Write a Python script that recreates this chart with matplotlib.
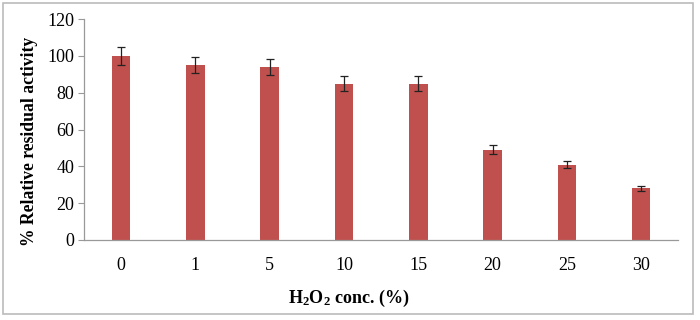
import matplotlib.pyplot as plt
from matplotlib.patches import Rectangle

conc = ['0', '1', '5', '10', '15', '20', '25', '30']
activity = [100, 95, 94, 85, 85, 49, 41, 28]
err = [5, 4.5, 4.5, 4, 4, 2.5, 2, 1.5]

plt.rcParams['font.family'] = ['Liberation Serif', 'DejaVu Serif']
plt.rcParams['mathtext.fontset'] = 'custom'
plt.rcParams['mathtext.rm'] = 'Liberation Serif'
plt.rcParams['mathtext.bf'] = 'Liberation Serif:bold'

fig = plt.figure(figsize=(7, 3.2), dpi=100)
ax = fig.add_axes([0.12, 0.25, 0.849, 0.69])

x = range(len(conc))
ax.bar(x, activity, width=0.25, color='#C0504D', yerr=err,
       error_kw=dict(ecolor='#222222', elinewidth=0.9, capsize=3, capthick=0.9))

ax.set_xlim(-0.5, len(conc) - 0.5)
ax.set_ylim(0, 120)
ax.set_yticks(range(0, 121, 20))
ax.set_xticks(list(x))
ax.set_xticklabels(conc)
ax.tick_params(axis='x', length=0, pad=12, labelsize=13)
ax.tick_params(axis='y', length=4, color='#999999', labelsize=13, pad=3)

for s in ['top', 'right']:
    ax.spines[s].set_visible(False)
for s in ['left', 'bottom']:
    ax.spines[s].set_color('#999999')
    ax.spines[s].set_linewidth(0.9)

ax.set_ylabel('% Relative residual activity', fontsize=12.7, fontweight='bold')
ax.yaxis.set_label_coords(-0.077, 0.445)
ax.set_xlabel(r'$\mathbf{H_2O_2}$ conc. (%)', fontsize=13, fontweight='bold')
ax.xaxis.set_label_coords(0.446, -0.215)

# outer frame
fig.patches.append(Rectangle((0.004, 0.02), 0.986, 0.97, transform=fig.transFigure,
                             fill=False, edgecolor='#bbbbbb', linewidth=1.2))

fig.savefig('out.png', dpi=100)
